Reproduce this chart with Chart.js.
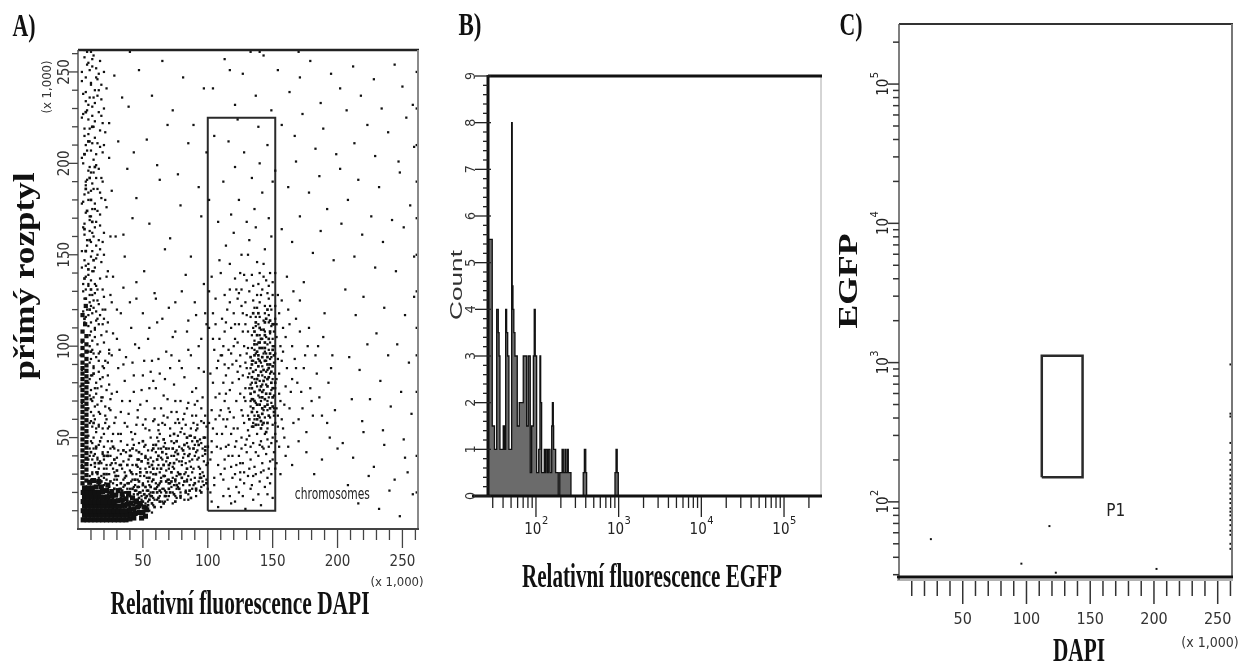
<!DOCTYPE html>
<html>
<head>
<meta charset="utf-8">
<script src="https://cdn.jsdelivr.net/npm/chart.js@4.4.1/dist/chart.umd.min.js"></script>
<style>
  body { margin: 0; background: #fff; width: 1248px; height: 669px; overflow: hidden; position: relative; }
  canvas { position: absolute; top: 0; }
</style>
</head>
<body>
<canvas id="chartA" width="425" height="669" style="left:0"></canvas>
<canvas id="chartB" width="410" height="669" style="left:425px"></canvas>
<canvas id="chartC" width="413" height="669" style="left:835px"></canvas>
<script>
// ---- panel A: DAPI (x 1,000) vs forward scatter (x 1,000), pairs x,y ----
const dapiTicks = [50, 100, 150, 200, 250];
const gateA = [100, 152, 10, 225]; // x0, x1, y0, y1

// solid black part of the debris cloud (bottom left)
const blobCore = [
  4,5, 7,5, 10,5, 13,5, 16,5, 19,5, 22,5, 25,5, 28,5, 31,5, 34,5, 37,5, 40,5.5, 43,6,
  5,7.5, 8,7.5, 11,7.5, 14,7.5, 17,7.5, 20,7.5, 23,7.5, 26,7.5, 29,7.5, 32,7.5, 35,7.5, 38,7.5, 41,8, 44,8.5, 47,9,
  4,10, 7,10, 10,10, 13,10, 16,10, 19,10, 22,10, 25,10, 28,10, 31,10, 34,10, 37,10, 40,10.5, 43,11, 46,12,
  5,12.5, 8,12.5, 11,12.5, 14,12.5, 17,12.5, 20,12.5, 23,12.5, 26,12.5, 29,12.5, 32,12.5, 35,13, 38,13.5, 41,14,
  4,15, 7,15, 10,15, 13,15, 16,15, 19,15, 22,15, 25,15, 28,15, 31,15.5, 34,16, 37,16.5,
  5,17.5, 8,17.5, 11,17.5, 14,17.5, 17,17.5, 20,17.5, 23,17.5, 26,18, 29,18.5,
  4,20, 7,20, 10,20, 13,20, 16,20, 19,20.5, 22,21,
  5,22.5, 8,22.5, 11,22.5, 14,23,
  26,20.5, 31,21, 34,19, 39,19.5, 42,17, 45,15, 48,14, 51,12, 18,23, 23,24, 9,25.5, 12,26.5, 16,26,
  50,9, 53,10.5, 52,7, 49,6
];
// dark vertical band near zero DAPI
const bandCore = [
  3.5,25, 6.5,26.5, 3.5,28, 6.5,29.5, 3.5,31, 6.5,32.5, 3.5,34, 6.5,35.5, 3.5,37, 6.5,38.5,
  3.5,40, 6.5,41.5, 3.5,43, 6.5,44.5, 3.5,46, 6.5,47.5, 3.5,49, 6.5,50.5, 3.5,52, 6.5,53.5,
  3.5,55, 6.5,56.5, 3.5,58, 6.5,59.5, 3.5,61, 6.5,62.5, 3.5,64, 6.5,65.5, 3.5,67, 6.5,68.5,
  3.5,70, 6.5,71.5, 3.5,73, 6.5,74.5, 3.5,76, 6.5,77.5, 3.5,79, 6.5,80.5, 3.5,82, 6.5,83.5,
  3.5,85, 6.5,86.5, 3.5,88, 6.5,89.5, 3.5,91, 6.5,93, 3.5,95, 6.5,97, 3.5,99, 6.5,101,
  3.5,103, 6.5,105.5, 3.5,108, 5.5,112, 3.5,117, 6,122
];
// darker cores: band top, diagonal cloud, chromosome cluster
const dapiMid = [
  5,115, 9,120, 6,126, 10,131, 5,137, 8,142, 12,147, 6,152, 9,158, 5,164, 11,168, 7,174,
  10,180, 6,186, 9,192, 13,198, 5,205, 8,212, 11,220, 6,228,
  38,18, 42,22, 46,19, 50,24, 54,21, 58,27, 62,24, 66,29, 44,27, 48,31, 52,17, 56,23,
  60,30, 64,33, 68,26, 72,31, 40,12, 45,16, 49,13, 53,18, 57,14, 61,20, 70,22, 75,27,
  34,14, 30,19, 26,16, 36,24, 32,16, 36,20, 40,18, 44,21, 48,20, 52,23, 56,18, 60,22,
  64,26, 68,20, 72,26, 76,24, 80,28, 47,26, 55,28, 63,21, 43,13, 51,10, 39,25, 35,18,
  28,22, 24,20, 58,33, 66,35, 74,36, 12,27, 15,31, 18,26, 13,36, 20,30, 10,42, 12,58,
  10,71, 12,85, 10,97,
  22,14, 26,12, 30,11, 34,21, 38,15, 42,17, 46,23, 50,15, 54,13, 58,20, 62,17, 66,14,
  70,25, 74,19, 78,22, 82,26, 86,21, 90,25, 94,28, 84,33, 78,30, 70,35, 62,40, 54,36,
  46,38, 38,35, 30,32, 22,30, 18,22, 16,36, 14,45, 20,40, 27,45, 35,43, 42,44, 50,48,
  58,44, 66,49, 74,52, 82,46, 90,50, 98,43,
  25,26, 29,29, 33,25, 37,29, 41,31, 45,35, 49,37, 53,31, 57,35, 61,38, 65,42, 69,39,
  73,44, 77,41, 81,43, 85,40, 89,44, 93,46, 97,50, 27,17, 31,15, 35,12, 39,11, 43,15,
  47,17, 51,19, 55,16, 59,12, 63,15, 67,18, 71,20, 75,15, 79,18, 83,20, 87,17, 91,22,
  95,20, 99,25, 23,40, 28,38, 33,35, 40,40, 47,42, 52,39, 60,46, 68,44, 76,48, 84,50,
  92,48, 100,45,
  138,60, 142,63, 146,58, 140,68, 144,71, 148,66, 136,75, 141,78, 145,74, 149,80,
  139,84, 143,87, 147,83, 137,91, 142,94, 146,90, 140,99, 144,102, 148,96, 138,106,
  143,109, 135,66, 150,72, 134,83, 150,89, 141,55, 145,115, 137,113, 142,72, 146,78,
  139,95, 144,92, 141,86, 147,104, 137,80,
  135,56, 139,62, 143,58, 147,62, 151,64, 136,70, 140,76, 144,67, 148,74, 152,80,
  135,86, 139,89, 143,81, 147,88, 151,95, 136,95, 140,92, 144,99, 148,90, 136,101,
  140,110, 144,113, 148,108, 135,118, 141,104, 146,120, 133,74, 133,94, 132,60, 150,112,
  134,64, 138,68, 142,66, 146,68, 150,67, 134,77, 138,82, 142,75, 146,82, 150,77, 134,90,
  138,97, 142,99, 146,94, 150,98, 136,108, 140,102, 144,106, 148,114, 139,118, 134,71,
  141,59, 145,53, 137,57, 149,86
];
const bandUpper = [
  5,258, 8,255, 12,259, 14,252, 17,256, 20,250, 6,247, 10,244, 15,246, 22,241, 4,238, 9,236,
  13,233, 18,235, 7,229, 11,226, 16,228, 19,222, 5,219, 8,216, 13,214, 21,217, 6,210, 10,207,
  14,205, 17,209, 24,203, 4,200, 9,198, 12,195, 16,197, 7,191, 11,189, 15,186, 19,190, 5,183,
  8,180, 13,178, 18,181, 22,176, 6,173, 10,171, 14,168, 17,172, 4,165, 9,163, 12,160, 16,158,
  20,162, 7,155, 11,152, 15,150, 5,147, 8,145, 13,143, 18,146, 23,141, 6,138, 10,136, 14,133,
  17,137, 4,130, 9,128, 12,125, 16,123, 20,127, 7,120, 11,118, 15,115, 5,113, 8,111, 13,110,
  19,112, 7,261, 11,253, 16,249, 9,251, 3,245, 13,240, 18,243, 6,234, 11,231, 15,237, 20,230,
  8,224, 12,220, 3,225, 17,218, 9,212, 15,211, 5,205, 12,202, 19,206, 8,196, 14,192, 10,185,
  6,188, 17,184, 3,178, 11,175, 15,174, 9,169, 5,161, 13,165, 19,157, 10,157, 6,152, 14,148,
  17,153, 3,143, 11,141, 8,134, 15,131, 5,126, 13,129, 19,120, 10,122, 6,116, 14,119, 16,112,
  28,248, 34,236, 31,212, 38,197, 26,185, 42,170, 29,160, 36,149, 27,138, 45,126, 33,118, 30,104,
  4,134, 8,139, 12,141, 6,144, 10,149, 3,152, 14,155, 7,158, 11,162, 5,167, 9,171, 13,175,
  4,179, 8,184, 12,186, 6,190, 10,195, 14,199, 3,203, 7,207, 11,211, 5,215, 9,219, 13,223,
  4,227, 8,232, 12,236, 6,239, 10,243, 14,247, 3,250, 7,254, 11,257, 5,262, 16,240, 18,226,
  20,210, 18,192, 21,180, 17,166, 20,150, 22,138, 24,222, 25,160
];
const bandFuzz = [
  10,108, 13,105, 3,102, 11,98, 15,101, 10,93, 12,89, 16,92, 3,87, 11,84, 14,80, 10,76,
  18,78, 12,72, 3,69, 15,68, 10,64, 13,60, 17,63, 11,56, 3,52, 14,53, 10,48, 12,44,
  16,46, 19,41, 11,38, 13,34, 3,35, 15,30, 10,27, 17,25, 12,23, 20,28, 14,18, 22,33,
  18,50, 21,58, 24,66, 19,72, 23,84, 26,95, 20,88, 25,44, 27,52, 9,100, 12,96, 9,82,
  13,67, 9,58, 12,50, 9,40, 11,31, 16,86, 17,97, 14,74, 16,57, 15,39, 20,102, 22,108, 24,79,
  9,22, 12,26, 9,29, 14,31, 10,35, 8,38, 13,41, 9,44, 11,47, 8,51, 14,55, 10,59, 12,62,
  8,66, 11,70, 9,73, 13,77, 8,80, 10,84, 12,88, 9,91, 14,94, 8,97, 11,103, 9,106, 13,109,
  10,113, 8,117, 12,121, 9,124, 11,128, 15,125, 17,117, 14,114, 18,106, 16,96, 19,89, 17,82,
  15,77, 18,70, 16,64, 19,55, 17,48, 14,44, 18,36, 16,28, 20,24, 22,40, 23,55, 21,62, 25,71,
  22,76, 21,92, 24,98, 23,113, 21,120, 26,124, 19,131, 13,134, 8,133, 6,131, 4,119, 2,95, 2,78
];
const diagCloud = [
  21,25, 24,30, 26,21, 28,27, 22,35, 29,19, 25,40, 27,33, 23,22, 30,24,
  31,29, 33,22, 35,27, 37,20, 32,35, 34,18, 36,31, 38,25, 39,38, 31,43, 35,15, 37,42, 33,48, 40,22,
  41,26, 43,19, 45,30, 47,23, 42,35, 44,14, 46,27, 48,33, 49,18, 41,40, 43,46, 45,21, 47,38, 50,25, 44,52, 48,12, 42,30, 46,16,
  51,29, 53,21, 55,34, 57,26, 52,40, 54,15, 56,31, 58,37, 59,22, 51,45, 53,28, 55,19, 57,43, 60,30, 52,55, 56,50, 58,17, 54,38,
  61,33, 63,25, 65,38, 67,29, 62,44, 64,20, 66,35, 68,41, 69,27, 61,50, 63,31, 65,22, 67,47, 70,33, 62,57, 66,62, 68,18, 64,44,
  71,36, 73,28, 75,42, 77,31, 72,48, 74,24, 76,38, 78,45, 79,30, 71,55, 73,34, 75,26, 77,51, 80,37, 72,64, 76,22, 78,58, 74,40,
  81,39, 83,31, 85,45, 87,34, 82,52, 84,27, 86,41, 88,48, 89,33, 81,60, 83,36, 85,29, 87,55, 90,40, 84,66, 86,24, 88,62,
  91,42, 93,34, 95,47, 97,37, 92,55, 94,30, 96,44, 98,50, 99,35, 91,62, 93,39, 95,28, 97,58, 92,70, 96,26,
  11,30, 14,26, 16,33, 19,22, 12,40, 17,37, 20,45, 23,42, 26,48, 29,36, 18,15, 21,12, 24,17, 27,11,
  31,13, 34,10, 37,12, 40,15, 43,10, 46,13, 49,9, 52,14, 55,10, 58,13, 61,16, 64,12, 67,15, 70,18,
  73,14, 76,17, 79,20, 82,16, 85,19, 88,22, 91,18, 94,21, 97,24, 100,22, 39,9, 45,8, 51,7, 57,9,
  16,24, 18,29, 20,33, 15,38, 19,42, 22,27, 24,23, 26,36, 28,31, 30,27, 32,22, 34,33, 36,28, 38,22,
  40,32, 42,27, 44,24, 46,34, 48,29, 50,21, 52,33, 54,26, 56,20, 58,30, 60,25, 62,35, 64,28, 66,22,
  68,32, 70,27, 72,23, 74,33, 76,29, 78,25, 80,35, 82,30, 84,26, 86,37, 88,31, 90,28, 92,38, 94,33,
  96,31, 98,41, 100,36, 17,20, 19,17, 23,19, 25,14, 27,25, 29,16, 31,21, 33,17, 35,23, 37,14, 39,19,
  41,17, 43,23, 45,12, 47,20, 49,16, 51,19, 53,12, 55,24, 57,18, 59,16, 61,23, 63,18, 65,15, 67,21,
  69,16, 71,25, 73,20, 75,18, 77,23, 79,17, 81,24, 83,21, 85,16, 87,27, 89,24, 91,21, 93,26, 95,23,
  97,29, 99,27, 20,38, 23,48, 25,35, 28,44, 30,39, 33,41, 35,37, 38,46, 40,43, 42,49, 45,43, 47,47,
  49,41, 52,46, 54,43, 56,39, 58,46, 60,42, 62,48, 64,39, 66,45, 68,37, 70,44, 72,40, 74,47, 76,43,
  78,37, 80,44, 82,41, 84,47, 86,44, 88,38, 90,46, 92,43, 94,49, 96,40, 98,45, 24,56, 31,52, 36,58,
  41,53, 46,61, 50,57, 55,54, 59,60, 63,52, 67,57, 71,51, 75,58, 79,53, 83,57, 87,51, 91,54, 95,59, 99,56
];
const fanCloud = [
  16,56, 21,67, 19,83, 26,74, 24,96, 29,61, 31,88, 27,107, 34,70, 33,52, 37,94, 39,63, 36,81,
  41,110, 43,75, 45,57, 42,91, 48,68, 47,99, 50,84, 52,60, 54,104, 55,77, 57,92, 59,66, 61,113,
  63,85, 62,54, 66,73, 68,97, 69,61, 71,88, 74,79, 73,105, 76,64, 78,92, 80,55, 82,83, 84,108,
  85,69, 87,95, 89,58, 91,77, 93,100, 95,66, 97,86, 99,112, 58,81, 44,101, 32,98, 23,91, 18,72,
  65,58, 79,70, 86,51, 92,57, 17,48, 20,52, 22,60, 25,65, 28,58, 30,75, 33,64, 35,90, 38,56,
  40,70, 43,84, 46,65, 49,76, 51,92, 53,70, 56,86, 58,59, 60,77, 62,93, 64,66, 67,82, 69,71,
  72,95, 75,70, 77,60, 80,88, 82,63, 85,98, 88,75, 90,68, 93,88, 96,72, 98,62, 20,115, 25,128,
  30,120, 35,132, 40,124, 50,118, 60,126, 70,121, 80,130, 90,124, 98,118, 45,135, 55,110, 65,115,
  75,108, 85,114, 95,104
];
const chromCloud = [
  131,62, 133,70, 135,58, 129,77, 132,85, 134,92, 128,100, 131,108, 133,116, 126,65, 128,72, 130,88,
  125,95, 127,118, 124,82, 122,70, 121,104, 119,90, 117,76, 120,61, 123,55, 126,50, 129,46, 132,51,
  135,47, 138,52, 141,48, 144,52, 147,45, 150,50, 152,58, 151,66, 152,77, 151,85, 152,96, 150,104,
  151,112, 149,120, 147,126, 144,122, 141,128, 138,121, 135,125, 132,130, 129,124, 126,131, 123,126,
  120,118, 118,110, 116,98, 114,84, 113,70, 115,60, 118,52, 121,45, 124,40, 127,36, 130,42, 133,38,
  136,34, 139,40, 142,36, 145,41, 148,37, 151,42, 149,30, 146,28, 143,32, 140,26, 137,30, 134,24,
  131,29, 128,25, 125,31, 122,35, 119,40, 116,46, 113,38, 111,52, 110,65, 112,80, 111,95, 113,108,
  115,120, 117,131, 121,137, 125,140, 130,136, 134,139, 139,134, 143,138, 147,133, 150,128, 152,122,
  136,98, 139,102, 142,79, 145,86, 148,93, 133,79, 137,87, 140,72, 143,65, 146,70, 149,76, 136,62,
  139,57, 142,89, 145,96, 148,102, 134,106, 137,111, 140,116, 144,108, 147,113, 130,96, 127,84,
  125,74, 128,58, 131,54, 142,45, 146,55, 151,62, 129,112, 124,112, 122,92, 119,80, 116,66, 114,56,
  120,100, 123,86, 134,56, 136,60, 138,64, 140,61, 142,57, 144,61, 146,65, 148,61, 150,57, 133,67,
  135,71, 137,69, 139,73, 141,70, 143,76, 145,79, 147,72, 149,69, 151,73, 132,77, 134,80, 136,82,
  138,78, 140,81, 142,84, 144,83, 146,87, 148,85, 150,82, 133,88, 135,92, 137,96, 139,93, 141,91,
  143,96, 145,92, 147,98, 149,94, 151,91, 134,99, 136,103, 138,101, 140,106, 142,104, 144,97,
  146,101, 148,107, 150,100, 135,110, 137,116, 139,112, 141,109, 143,114, 145,105, 147,117, 149,111,
  151,108, 136,121, 140,124, 144,118, 148,122, 142,131, 138,128, 146,129, 131,99, 129,91, 131,83,
  129,70, 127,62, 125,89, 123,102, 127,108, 130,117, 126,122, 124,129, 121,112, 118,96, 116,88,
  114,74, 117,64, 120,55, 122,48, 126,44, 130,49, 133,45, 137,42, 140,46, 143,44, 146,49, 149,47,
  152,52, 151,100, 152,115, 150,135, 145,136, 140,140, 135,133, 128,139, 122,131, 117,124, 114,113,
  112,100, 113,90, 112,60, 114,45, 118,34, 121,30, 125,27, 132,33, 135,29, 141,31, 147,33, 150,38, 152,33
];
const gateSparse = [
  103,15, 108,12, 112,18, 118,14, 124,20, 129,11, 135,16, 141,13, 146,19, 105,24, 110,30, 116,22,
  102,38, 107,45, 112,27, 104,55, 109,62, 106,72, 102,85, 108,92, 104,104, 111,115, 106,126, 103,138,
  109,147, 114,155, 120,162, 126,150, 132,158, 138,146, 144,153, 149,160, 118,172, 124,180, 130,168,
  136,175, 142,184, 147,170, 112,190, 121,198, 128,206, 134,192, 140,200, 146,210, 105,215, 116,212,
  139,220, 123,224, 108,168, 101,180, 110,140, 117,145, 143,145, 148,140, 131,150, 113,128, 137,165, 150,190,
  102,20, 105,28, 108,35, 103,42, 107,52, 110,44, 113,33, 116,40, 119,28, 122,23, 125,36, 128,31,
  103,65, 106,60, 109,74, 104,80, 107,88, 110,95, 105,98, 101,110, 104,118, 101,130, 106,112, 109,104,
  103,48, 101,58, 117,18, 121,15, 127,18, 133,22, 139,19, 144,23, 150,17, 148,25
];
const rightCloud = [
  154,62, 156,70, 158,55, 155,85, 157,92, 160,78, 163,66, 165,100, 158,110, 162,120, 168,88, 172,75,
  170,60, 175,95, 178,110, 166,130, 180,70, 184,85, 188,62, 185,100, 190,118, 193,80, 196,95, 198,65,
  155,45, 160,40, 165,35, 170,48, 176,42, 182,30, 188,38, 194,50, 200,44, 157,125, 161,138, 153,105, 152,140,
  153,48, 154,56, 153,66, 155,74, 153,82, 154,93, 156,100, 153,112, 155,118, 154,128, 157,60, 159,68,
  161,88, 158,97, 160,105, 163,112, 164,75, 166,58, 167,93, 169,80, 171,108, 173,66, 174,88, 176,53,
  177,100, 179,77, 181,62, 183,95, 186,72, 189,105, 192,58, 195,88, 153,36, 156,30, 159,50, 162,45,
  165,82, 168,115, 171,125, 174,135
];
const background = [
  154,251, 163,239, 171,247, 179,256, 187,233, 195,249, 202,241, 212,253, 218,237, 228,246, 234,230,
  244,254, 250,242, 258,232, 157,221, 167,215, 173,227, 183,208, 189,219, 199,205, 207,229, 213,211,
  223,221, 229,204, 239,217, 247,201, 253,225, 259,209, 152,196, 162,187, 168,201, 178,184, 186,193,
  192,175, 202,197, 208,180, 216,191, 226,171, 232,187, 242,169, 248,195, 256,177, 157,164, 165,157,
  171,171, 181,151, 187,163, 197,147, 203,167, 213,149, 219,161, 229,143, 235,157, 245,141, 251,165,
  259,149, 206,131, 214,117, 220,127, 230,107, 236,121, 246,101, 252,117, 259,127, 209,94, 217,87,
  223,101, 233,81, 239,95, 249,75, 255,91, 211,71, 219,59, 225,71, 235,54, 241,67, 251,49, 257,63,
  204,47, 212,39, 220,53, 228,34, 236,46, 244,27, 252,39, 258,19, 208,24, 216,14, 224,29, 232,11,
  240,21, 248,7, 254,31, 47,251, 57,237, 65,256, 73,229, 81,247, 89,221, 97,241, 53,213, 61,199,
  69,221, 77,194, 85,211, 93,187, 99,206, 45,181, 55,167, 63,191, 71,159, 79,177, 87,149, 95,171,
  51,141, 59,129, 67,153, 75,124, 83,139, 91,117, 97,134, 39,231, 35,161, 43,206, 104,241, 113,257,
  121,232, 127,249, 137,237, 143,259, 149,229, 117,251, 133,261,
  261,20, 261,40, 261,75, 261,95, 261,110, 261,130, 261,150, 261,170, 261,190, 261,210, 261,230, 261,250,
  10,261, 40,261, 140,261, 170,261
];
const chromLabel = [196, 18.5]; // "chromosomes" anchor (data units)

// ---- panel B: EGFP histogram (bin start, count) ----
const egfpEdge = [26.3, 29.6, 31.5, 33.5, 35.0, 35.8, 36.7, 40.2, 41.5, 43.0, 44.2, 45.5, 47.1,
  50.8, 51.6, 52.7, 54.0, 55.7, 59.4, 62.8, 67.1, 70.2, 77.1, 80.7, 85.3, 88.7, 93.0, 95.3, 98.0,
  101.9, 108, 111.7, 114, 117.1, 126, 129, 132, 138, 141, 147.7, 155, 158, 162, 163.7, 173, 186,
  194, 207, 214, 224, 230, 240, 246, 265, 373, 385, 400, 410, 903, 930, 960, 990, 280000];
const egfpCount = [5.5, 1.5, 1, 4, 3.5, 3, 1, 1.5, 1, 4, 3.5, 3, 1,
  8, 4.5, 4, 3.5, 3, 1.5, 2, 2, 3, 1.5, 3, 0.5, 1.5, 3, 4, 3,
  0.5, 1, 3, 2, 0.5, 1, 0.5, 1, 0.5, 1, 0.5, 1.5, 2, 1.5, 1, 0.5, 0,
  0.5, 1, 0.5, 1, 0.5, 1, 0.5, 0, 0.5, 1, 0.5, 0, 0.5, 1, 0.5, 0, 0];
const countTicks = [0, 1, 2, 3, 4, 5, 6, 7, 8, 9];
const egfpDecades = [2, 3, 4, 5];

// ---- panel C: DAPI (x 1,000) vs EGFP ----
const cDapi = [25, 118, 96, 123, 202];
const cEgfp = [54, 67, 36, 31, 33];
const cEdgeEgfp = [970, 430, 410, 265, 225, 200, 185, 170, 155, 145, 135, 125, 115, 105, 98, 90, 85, 80, 74, 68, 62, 58, 50, 46];
const gateC = [112, 144, 150, 1120];
const cDecades = [2, 3, 4, 5];
const p1Label = [170, 85];

const SANS = '"Liberation Sans Narrow", "DejaVu Sans Condensed", sans-serif';
const SERIF = '"Liberation Serif", "DejaVu Serif", serif';

Chart.defaults.animation = false;

const pairs = a => {
  const out = [];
  for (let i = 0; i < a.length; i += 2) out.push({ x: a[i], y: a[i + 1] });
  return out;
};
const box = g => [
  { x: g[0], y: g[2] }, { x: g[0], y: g[3] }, { x: g[1], y: g[3] }, { x: g[1], y: g[2] }, { x: g[0], y: g[2] }
];

function line(ctx, x1, y1, x2, y2, w, c) {
  ctx.beginPath();
  ctx.moveTo(x1, y1);
  ctx.lineTo(x2, y2);
  ctx.lineWidth = w;
  ctx.strokeStyle = c;
  ctx.stroke();
}

// centered text, optional rotation and horizontal fit to a width
function label(ctx, s, x, y, font, o = {}) {
  ctx.save();
  ctx.translate(x, y);
  if (o.rot) ctx.rotate(o.rot);
  ctx.font = font;
  ctx.fillStyle = o.color || '#111';
  ctx.textAlign = 'center';
  ctx.textBaseline = 'middle';
  if (o.w) ctx.scale(o.w / ctx.measureText(s).width, 1);
  ctx.fillText(s, 0, 0);
  ctx.restore();
}

function powLabel(ctx, e, x, y, rot) {
  ctx.save();
  ctx.translate(x, y);
  if (rot) ctx.rotate(rot);
  ctx.fillStyle = '#222';
  ctx.textBaseline = 'middle';
  ctx.textAlign = 'left';
  ctx.font = '15px ' + SANS;
  const w1 = ctx.measureText('10').width;
  ctx.font = '11px ' + SANS;
  const w2 = ctx.measureText(String(e)).width;
  const x0 = -(w1 + w2) / 2;
  ctx.font = '15px ' + SANS;
  ctx.fillText('10', x0, 2);
  ctx.font = '11px ' + SANS;
  ctx.fillText(String(e), x0 + w1 + 0.5, -7);
  ctx.restore();
}

const UP = -Math.PI / 2;

const axesA = {
  id: 'axesA',
  afterDatasetsDraw(chart) {
    const { ctx, chartArea: a, scales: { x, y } } = chart;
    ctx.save();
    line(ctx, a.left, a.top, a.right + 1, a.top, 2.5, '#222');
    line(ctx, a.left, a.top, a.left, a.bottom, 1.5, '#555');
    line(ctx, a.right, a.top, a.right, a.bottom, 2, '#8a8a8a');
    line(ctx, a.left - 1, a.bottom, a.right + 1, a.bottom, 2, '#444');
    for (let v = 10; v <= 260; v += 10) {
      const major = v % 50 === 0;
      const px = x.getPixelForValue(v);
      line(ctx, px, a.bottom + 1, px, a.bottom + (major ? 19 : 11), 1.3, '#444');
      const py = y.getPixelForValue(v);
      line(ctx, a.left - (major ? 9 : 6), py, a.left, py, 1.3, '#444');
    }
    dapiTicks.forEach(v => {
      label(ctx, String(v), x.getPixelForValue(v), a.bottom + 33, '15px ' + SANS, { color: '#333' });
      label(ctx, String(v), a.left - 13, y.getPixelForValue(v), '15px ' + SANS, { color: '#333', rot: UP });
    });
    label(ctx, '(x 1,000)', 397, 583, '13px ' + SANS, { color: '#333' });
    label(ctx, '(x 1,000)', 48, 87, '13px ' + SANS, { color: '#333', rot: UP });
    label(ctx, 'chromosomes', x.getPixelForValue(chromLabel[0]), y.getPixelForValue(chromLabel[1]),
      '15px ' + SANS, { color: '#222', w: 75 });
    label(ctx, 'A)', 24, 28, 'bold 32px ' + SERIF, { w: 23 });
    label(ctx, 'přímý rozptyl', 26, 276, 'bold 30px ' + SERIF, { rot: UP, w: 207 });
    label(ctx, 'Relativní fluorescence DAPI', 240, 605, 'bold 33px ' + SERIF, { w: 259 });
    ctx.restore();
  }
};

const OB = 425;
const axesB = {
  id: 'axesB',
  afterDatasetsDraw(chart) {
    const { ctx, chartArea: a, scales: { x, y } } = chart;
    ctx.save();
    line(ctx, a.right, a.top, a.right, a.bottom, 1, '#aaa');
    line(ctx, a.left, a.top, a.right + 1, a.top, 3, '#111');
    line(ctx, a.left, a.top - 1, a.left, a.bottom, 3, '#111');
    line(ctx, a.left - 16, a.bottom, a.right + 1, a.bottom, 3, '#111');
    for (let v = 0; v <= 9.001; v += 0.2) {
      const py = y.getPixelForValue(v);
      const major = Math.abs(v - Math.round(v)) < 0.01;
      line(ctx, a.left - (major ? 13 : 5), py, a.left + (major ? 3 : 0), py, 1.3, '#222');
    }
    countTicks.forEach(v => label(ctx, String(v), a.left - 17, y.getPixelForValue(v), '14px ' + SANS, { color: '#333', rot: UP }));
    for (let d = 1; d <= 5; d++) {
      for (let m = 1; m <= 9; m++) {
        const v = m * Math.pow(10, d);
        if (v < x.min || v > x.max) continue;
        const px = x.getPixelForValue(v);
        line(ctx, px, a.bottom + 1, px, a.bottom + (m === 1 ? 21 : 12), 1.3, '#222');
      }
    }
    egfpDecades.forEach(e => powLabel(ctx, e, x.getPixelForValue(Math.pow(10, e)), a.bottom + 32));
    label(ctx, 'B)', 470 - OB, 27, 'bold 32px ' + SERIF, { w: 23 });
    label(ctx, 'Count', 457 - OB, 285, '17px "Liberation Sans", sans-serif', { color: '#333', rot: UP, w: 70 });
    label(ctx, 'Relativní fluorescence EGFP', 652 - OB, 578, 'bold 33px ' + SERIF, { w: 260 });
    ctx.restore();
  }
};

const OC = 835;
const axesC = {
  id: 'axesC',
  afterDatasetsDraw(chart) {
    const { ctx, chartArea: a, scales: { x, y } } = chart;
    ctx.save();
    line(ctx, a.left, a.top, a.right, a.top, 2, '#333');
    line(ctx, a.left, a.top, a.left, a.bottom + 2, 1.5, '#555');
    line(ctx, a.right - 1, a.top, a.right - 1, a.bottom, 2, '#777');
    line(ctx, a.left - 2, a.bottom - 1, a.right, a.bottom - 1, 3, '#111');
    line(ctx, a.left - 2, a.bottom + 2, a.right, a.bottom + 2, 1, '#666');
    for (let v = 10; v <= 260; v += 10) {
      const px = x.getPixelForValue(v);
      line(ctx, px, a.bottom + 3, px, a.bottom + (v % 50 === 0 ? 26 : 18), 1.5, '#333');
    }
    dapiTicks.forEach(v => label(ctx, String(v), x.getPixelForValue(v), a.bottom + 42, '16px ' + SANS, { color: '#333' }));
    for (let d = 1; d <= 5; d++) {
      for (let m = 1; m <= 9; m++) {
        const v = m * Math.pow(10, d);
        if (v < y.min || v > y.max) continue;
        const py = y.getPixelForValue(v);
        line(ctx, a.left - (m === 1 ? 11 : 6), py, a.left, py, 1.5, '#333');
      }
    }
    cDecades.forEach(e => powLabel(ctx, e, a.left - 17, y.getPixelForValue(Math.pow(10, e)), UP));
    label(ctx, '(x 1,000)', 1210 - OC, 643, '14px ' + SANS, { color: '#333' });
    label(ctx, 'P1', x.getPixelForValue(p1Label[0]), y.getPixelForValue(p1Label[1]), '17px ' + SANS, { color: '#222' });
    label(ctx, 'C)', 851 - OC, 27, 'bold 32px ' + SERIF, { w: 23 });
    label(ctx, 'EGFP', 850 - OC, 281, 'bold 27px ' + SERIF, { rot: UP, w: 95 });
    label(ctx, 'DAPI', 1079 - OC, 652, 'bold 34px ' + SERIF, { w: 52 });
    ctx.restore();
  }
};

const common = {
  responsive: false,
  animation: false,
  events: [],
  plugins: { legend: { display: false }, tooltip: { enabled: false } }
};
const dots = (data, r, style) => ({
  data, pointRadius: r, pointStyle: style || 'circle', backgroundColor: '#111', borderWidth: 0
});

new Chart(document.getElementById('chartA'), {
  type: 'scatter',
  data: {
    datasets: [
      dots(pairs(blobCore), 3.6, 'rect'),
      dots(pairs(bandCore), 3, 'rect'),
      dots(pairs(dapiMid), 1.9, 'rect'),
      dots(pairs([...bandUpper, ...bandFuzz, ...diagCloud, ...fanCloud, ...chromCloud,
        ...gateSparse, ...rightCloud, ...background]), 1.6, 'rect'),
      { type: 'line', data: box(gateA), borderColor: '#2a2a2a', borderWidth: 2, pointRadius: 0, fill: false }
    ]
  },
  options: {
    ...common,
    layout: { padding: { left: 78, top: 50, right: 7, bottom: 140 } },
    scales: {
      x: { type: 'linear', min: 0, max: 262, display: false },
      y: { type: 'linear', min: 0, max: 262, display: false }
    }
  },
  plugins: [axesA]
});

new Chart(document.getElementById('chartB'), {
  type: 'line',
  data: {
    datasets: [{
      data: egfpEdge.map((v, i) => ({ x: v, y: egfpCount[i] })),
      stepped: true,
      fill: 'origin',
      backgroundColor: '#6b6b6b',
      borderColor: '#111',
      borderWidth: 1.3,
      pointRadius: 0
    }]
  },
  options: {
    ...common,
    layout: { padding: { left: 63, top: 76, right: 14, bottom: 173 } },
    scales: {
      x: { type: 'logarithmic', min: 26.3, max: 280000, display: false },
      y: { type: 'linear', min: 0, max: 9, display: false }
    }
  },
  plugins: [axesB]
});

new Chart(document.getElementById('chartC'), {
  type: 'scatter',
  data: {
    datasets: [
      dots(cDapi.map((v, i) => ({ x: v, y: cEgfp[i] })), 1.4, 'rect'),
      dots(cEdgeEgfp.map(v => ({ x: 260, y: v })), 1.4, 'rect'),
      { type: 'line', data: box(gateC), borderColor: '#2a2a2a', borderWidth: 2.5, pointRadius: 0, fill: false }
    ]
  },
  options: {
    ...common,
    layout: { padding: { left: 64, top: 24, right: 15, bottom: 91 } },
    scales: {
      x: { type: 'linear', min: 0, max: 262, display: false },
      y: { type: 'logarithmic', min: 28.4, max: 270000, display: false }
    }
  },
  plugins: [axesC]
});
</script>
</body>
</html>
